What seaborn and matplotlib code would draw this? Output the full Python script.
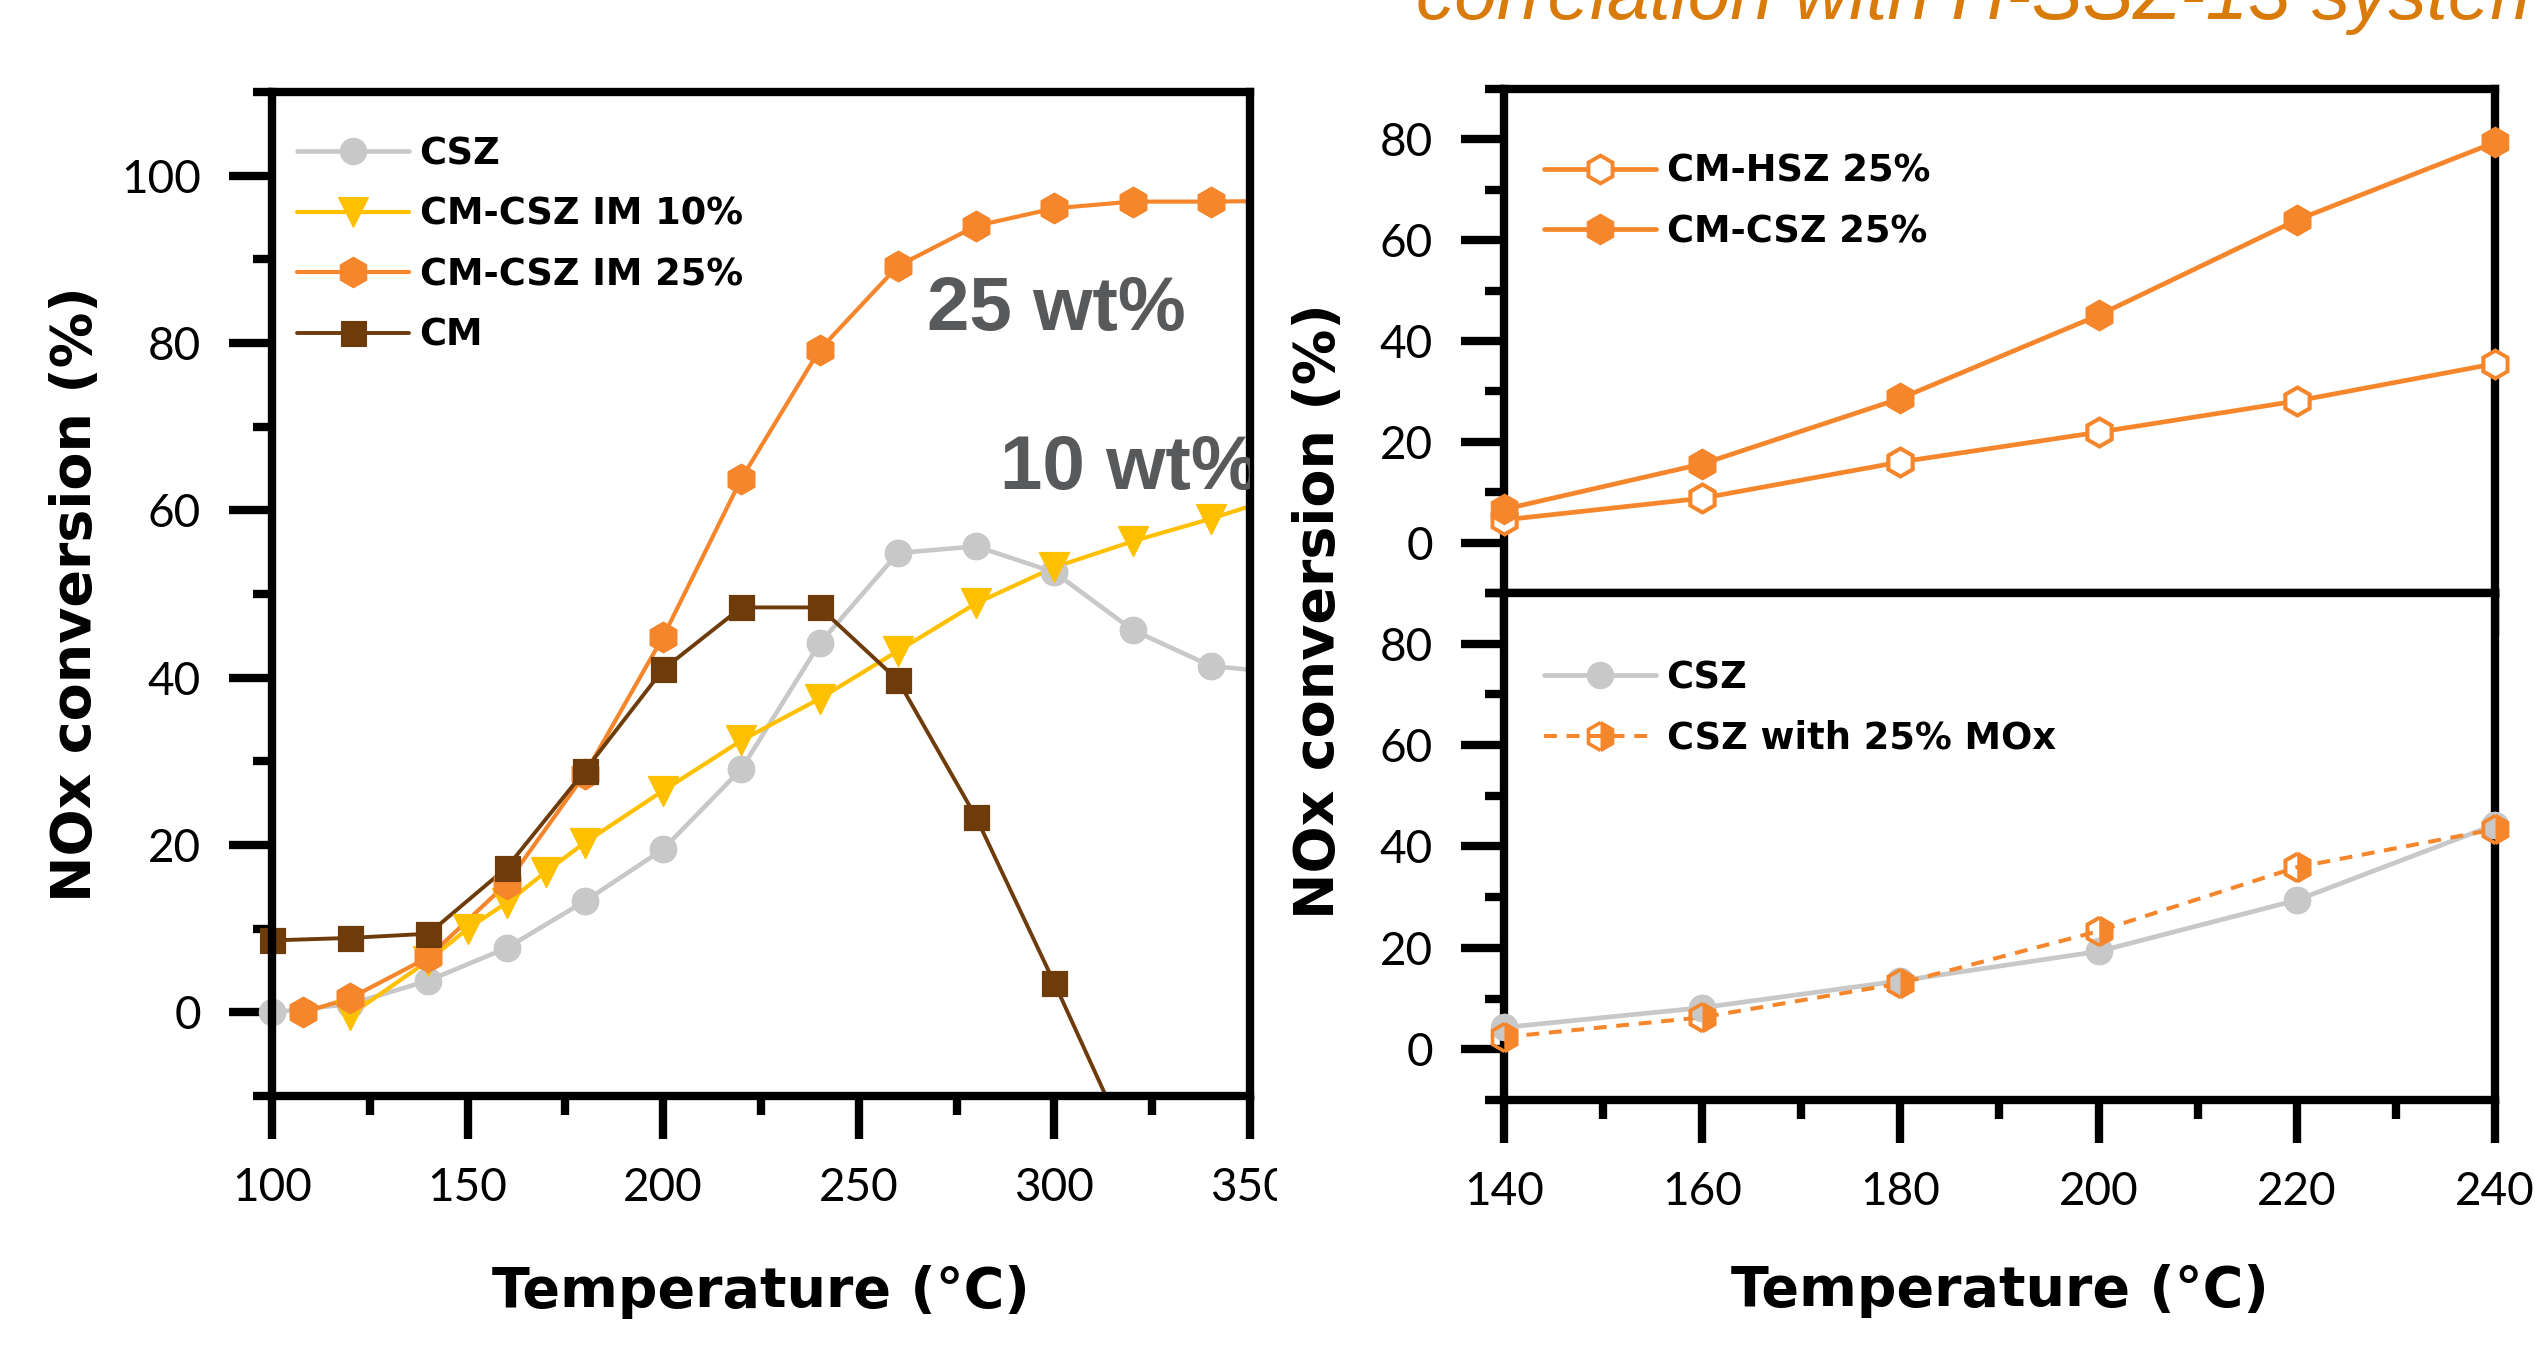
import matplotlib
matplotlib.use("Agg")
import matplotlib.pyplot as plt
import seaborn as sns
import pandas as pd
from matplotlib import font_manager
from matplotlib.transforms import Bbox

# ---------------- data ----------------
left_temp_csz = [100, 120, 140, 160, 180, 200, 220, 240, 260, 280, 300, 320, 340, 360]
left_csz = [0.0, 1.0, 3.8, 7.7, 13.3, 19.5, 29.1, 44.1, 54.9, 55.7, 52.6, 45.7, 41.4, 40.5]

left_temp_im10 = [120, 140, 150, 160, 170, 180, 200, 220, 240, 260, 280, 300, 320, 340, 360]
left_im10 = [-0.3, 6.2, 10.0, 13.1, 16.8, 20.3, 26.5, 32.5, 37.5, 43.2, 48.9, 53.2, 56.3, 59.0, 62.0]

left_temp_im25 = [108, 120, 140, 160, 180, 200, 220, 240, 260, 280, 300, 320, 340, 360]
left_im25 = [0.0, 1.7, 6.6, 15.4, 28.5, 44.9, 63.8, 79.2, 89.2, 94.0, 96.1, 96.9, 96.9, 97.0]

left_temp_cm = [100, 120, 140, 160, 180, 200, 220, 240, 260, 280, 300, 320]
left_cm = [8.6, 8.9, 9.4, 17.3, 28.9, 41.0, 48.4, 48.4, 39.7, 23.3, 3.5, -17.0]

right_temp = [140, 160, 180, 200, 220, 240]
right_hsz25 = [4.5, 8.8, 16.0, 21.9, 28.1, 35.5]
right_csz25 = [6.6, 15.6, 28.6, 45.1, 64.0, 79.4]
right_csz = [4.3, 8.2, 13.5, 19.3, 29.4, 44.3]
right_mox25 = [2.4, 6.3, 13.0, 23.3, 35.9, 43.4]

left_xticks = [100, 150, 200, 250, 300, 350]
left_xtick_labels = ["100", "150", "200", "250", "300", "350"]
left_xminor = [125, 175, 225, 275, 325]
left_yticks = [0, 20, 40, 60, 80, 100]
left_ytick_labels = ["0", "20", "40", "60", "80", "100"]
left_yminor = [-10, 10, 30, 50, 70, 90, 110]

right_xticks = [140, 160, 180, 200, 220, 240]
right_xtick_labels = ["140", "160", "180", "200", "220", "240"]
right_xminor = [150, 170, 190, 210, 230]
right_yticks = [0, 20, 40, 60, 80]
right_ytick_labels = ["0", "20", "40", "60", "80"]
right_yminor = [-10, 10, 30, 50, 70, 90]

# ---------------- style ----------------
sns.set_theme(style="ticks")
plt.rcParams["font.family"] = ["DejaVu Sans"]
plt.rcParams.update({"text.color": "black", "axes.labelcolor": "black",
                     "xtick.color": "black", "ytick.color": "black"})

GRAY = "#C8C8C8"
YELLOW = "#FFC000"
ORANGE = "#F5862C"
BROWN = "#6E3B0B"
TITLE_C = "#D97B0A"
ANNO_C = "#58595B"

TICK_FONT = dict(fontsize=33, fontfamily="Lato", fontweight="normal", color="black")
LABEL_FONT = dict(fontsize=40, fontfamily="DejaVu Sans", fontweight="bold", color="black")
LEG_PROP = dict(family="DejaVu Sans", weight="bold", size=26.5)
LEG_KW = dict(frameon=False, prop=LEG_PROP, handlelength=3.05, handletextpad=0.28,
              labelspacing=0.64, borderpad=0, borderaxespad=0, labelcolor="black")

fig = plt.figure(figsize=(25.35, 13.47), dpi=100)
axL = fig.add_axes([0.1073, 0.1863, 0.3858, 0.7454])
axRT = fig.add_axes([0.5933, 0.5598, 0.3909, 0.3741])
axRB = fig.add_axes([0.5933, 0.1834, 0.3909, 0.3764])


def style_axes(ax, xt, xtl, xm, yt, ytl, ym, xlim, ylim, xlabels=True):
    ax.set_xlim(xlim)
    ax.set_ylim(ylim)
    ax.set_xticks(xt, labels=xtl if xlabels else [""] * len(xt), **TICK_FONT)
    ax.set_xticks(xm, minor=True)
    ax.set_yticks(yt, labels=ytl, **TICK_FONT)
    ax.set_yticks(ym, minor=True)
    for s in ax.spines.values():
        s.set_visible(True)
        s.set_linewidth(6)
        s.set_color("black")
    ax.tick_params(which="major", direction="out", length=31, width=6, color="black", pad=20)
    ax.tick_params(which="minor", direction="out", length=14, width=6, color="black")
    ax.tick_params(which="both", top=False, right=False, labelcolor="black")
    ax.grid(False)
    ax.set_facecolor("white")


def draw(ax, x, y, label, color, marker, ms, lw=2.8, ls="-", mfc=None, mew=0.8,
         fillstyle="full", mfc_alt="none", zorder=2):
    df = pd.DataFrame({"T": x, "v": y})
    sns.lineplot(data=df, x="T", y="v", ax=ax, color=color, lw=lw, linestyle=ls,
                 marker=marker, markersize=ms, markerfacecolor=mfc if mfc else color,
                 markeredgecolor=color, markeredgewidth=mew, fillstyle=fillstyle,
                 markerfacecoloralt=mfc_alt, label=label, errorbar=None, sort=False,
                 zorder=zorder)
    # unclipped copies of the markers that lie within the axes range
    x0, x1 = ax.get_xlim()
    y0, y1 = ax.get_ylim()
    sel = df[(df["T"] >= x0) & (df["T"] <= x1) & (df["v"] >= y0) & (df["v"] <= y1)]
    ax.plot(sel["T"], sel["v"], linestyle="none", marker=marker, markersize=ms,
            markerfacecolor=mfc if mfc else color, markeredgecolor=color,
            markeredgewidth=mew, fillstyle=fillstyle, markerfacecoloralt=mfc_alt,
            clip_on=False, zorder=zorder + 0.1)


# ---------------- left panel ----------------
style_axes(axL, left_xticks, left_xtick_labels, left_xminor, left_yticks,
           left_ytick_labels, left_yminor, (100, 350), (-10, 110))
draw(axL, left_temp_csz, left_csz, "CSZ", GRAY, "o", 19, lw=3.3)
draw(axL, left_temp_im10, left_im10, "CM-CSZ IM 10%", YELLOW, "v", 22, lw=3.0)
draw(axL, left_temp_im25, left_im25, "CM-CSZ IM 25%", ORANGE, "h", 22, lw=3.0)
draw(axL, left_temp_cm, left_cm, "CM", BROWN, "s", 18, lw=2.8)

axL.set_xlabel("Temperature (°C)", **LABEL_FONT)
axL.xaxis.set_label_coords(0.5, -0.210)
axL.xaxis.label.set_va("baseline")
axL.set_ylabel("NOx conversion (%)", **LABEL_FONT)
axL.yaxis.set_label_coords(-0.185, 0.5)
axL.yaxis.label.set_va("baseline")
axL.yaxis.label.set_ha("center")

axL.legend(loc="upper left", bbox_to_anchor=(0.0256, 0.957), **LEG_KW)

axL.text(267.4, 81.5, "25 wt%", fontsize=55, fontweight="bold", color=ANNO_C,
         fontfamily="Liberation Sans", va="baseline", ha="left")
axL.text(286.0, 62.6, "10 wt%", fontsize=55, fontweight="bold", color=ANNO_C,
         fontfamily="Liberation Sans", va="baseline", ha="left", clip_on=True)

# ---------------- right top panel ----------------
style_axes(axRT, right_xticks, right_xtick_labels, right_xminor, right_yticks,
           right_ytick_labels, right_yminor, (140, 240), (-10, 90), xlabels=False)
draw(axRT, right_temp, right_hsz25, "CM-HSZ 25%", ORANGE, "h", 20, lw=3.4,
     mfc="white", mew=2.8, zorder=3)
draw(axRT, right_temp, right_csz25, "CM-CSZ 25%", ORANGE, "h", 22, lw=3.4, zorder=3)
axRT.set_xlabel("")
axRT.set_ylabel("")
axRT.legend(loc="upper left", bbox_to_anchor=(0.0404, 0.874), **LEG_KW)

# ---------------- right bottom panel ----------------
style_axes(axRB, right_xticks, right_xtick_labels, right_xminor, right_yticks,
           right_ytick_labels, right_yminor, (140, 240), (-10, 90))
draw(axRB, right_temp, right_csz, "CSZ", GRAY, "o", 19, lw=3.4, zorder=3)
draw(axRB, right_temp, right_mox25, "CSZ with 25% MOx", ORANGE, "h", 20, lw=2.9,
     ls=(0, (3.2, 2.4)), mew=2.6, fillstyle="right", mfc_alt="none", zorder=3)
axRB.set_xlabel("Temperature (°C)", **LABEL_FONT)
axRB.xaxis.set_label_coords(0.5, -0.407)
axRB.xaxis.label.set_va("baseline")
axRB.set_ylabel("")
axRB.legend(loc="upper left", bbox_to_anchor=(0.0404, 0.869), **LEG_KW)

fig.text(1334 / 2535, 1 - 611 / 1347, "NOx conversion (%)", rotation=90,
         rotation_mode="anchor", ha="center", va="baseline", **LABEL_FONT)

# ---------------- header text ----------------
names = {f.name for f in font_manager.fontManager.ttflist}
if "Liberation Sans Narrow" in names:
    tfam, tsize = ["Liberation Sans Narrow", "Liberation Sans"], 67
else:
    tfam, tsize = ["Liberation Sans", "DejaVu Sans"], 55
fig.text(1416 / 2535, 1 - 19 / 1347, "correlation with H-SSZ-13 system",
         fontsize=tsize, fontstyle="italic", family=tfam, color=TITLE_C,
         ha="left", va="baseline")

# the "350" label is cut off in the source picture
fig.canvas.draw()
lbl350 = axL.get_xticklabels()[-1]
lbl350.set_clip_on(True)
lbl350.set_clip_box(Bbox.from_extents(0, 0, 1277, 1347))

fig.savefig("out.png", dpi=100, facecolor="white")
